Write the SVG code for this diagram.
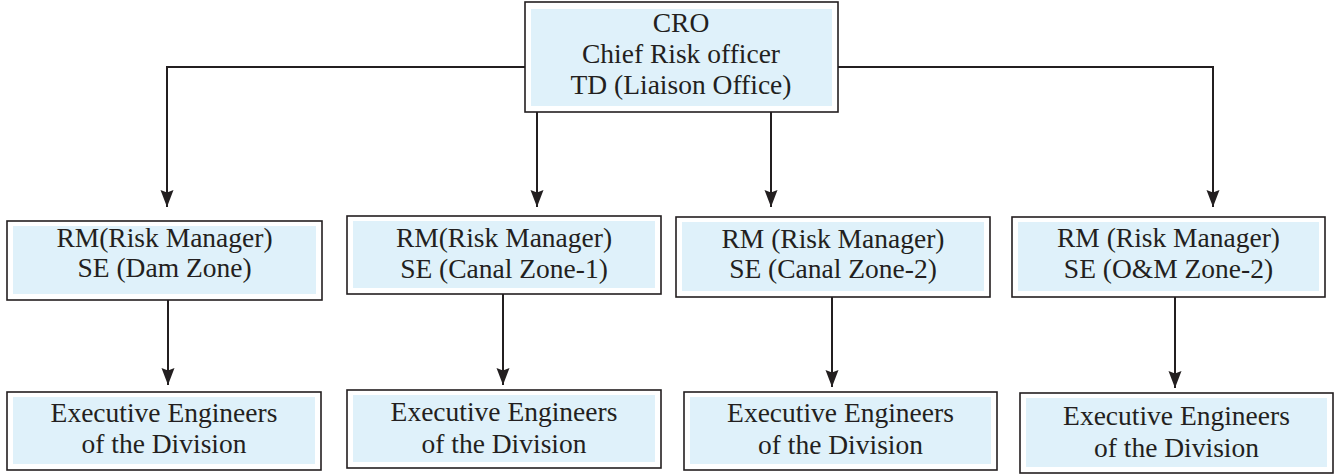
<svg xmlns="http://www.w3.org/2000/svg" width="1338" height="475" viewBox="0 0 1338 475">
<style>
.outer{fill:#ffffff;stroke:#231f20;stroke-width:1.6}
.inner{fill:#dff1fa}
.t{font-family:"Liberation Serif","DejaVu Serif",serif;font-size:27.5px;fill:#231f20;text-anchor:middle}
.c{fill:none;stroke:#231f20;stroke-width:2}
</style>
<defs>
<marker id="ah" markerUnits="userSpaceOnUse" markerWidth="20" markerHeight="16" viewBox="0 -8 18 16" refX="17" refY="0" orient="auto">
<path d="M0,-6.5 L17,0 L0,6.5 L2.5,0 Z" fill="#231f20"/>
</marker>
</defs>
<g id="connectors">
<polyline class="c" points="525,67 167,67 167,207" marker-end="url(#ah)"/>
<polyline class="c" points="838,67 1213,67 1213,207" marker-end="url(#ah)"/>
<line class="c" x1="537" y1="112" x2="537" y2="207" marker-end="url(#ah)"/>
<line class="c" x1="771" y1="112" x2="771" y2="207" marker-end="url(#ah)"/>
<line class="c" x1="168" y1="300" x2="168" y2="385" marker-end="url(#ah)"/>
<line class="c" x1="503" y1="294" x2="503" y2="385" marker-end="url(#ah)"/>
<line class="c" x1="832" y1="297" x2="832" y2="387" marker-end="url(#ah)"/>
<line class="c" x1="1175" y1="297" x2="1175" y2="388" marker-end="url(#ah)"/>
</g>
<g id="cro">
<rect class="outer" x="525" y="2" width="313" height="110"/>
<rect class="inner" x="531" y="9" width="301" height="97"/>
<text class="t" x="681" y="32">CRO</text>
<text class="t" x="681" y="63">Chief Risk officer</text>
<text class="t" x="681" y="94">TD (Liaison Office)</text>
</g>
<g id="rm-dam">
<rect class="outer" x="7" y="221" width="315" height="79"/>
<rect class="inner" x="13" y="226" width="303" height="68"/>
<text class="t" x="164.5" y="247">RM(Risk Manager)</text>
<text class="t" x="164.5" y="277">SE (Dam Zone)</text>
</g>
<g id="rm-canal1">
<rect class="outer" x="347" y="216" width="314" height="78"/>
<rect class="inner" x="353" y="221" width="302" height="67"/>
<text class="t" x="504" y="247">RM(Risk Manager)</text>
<text class="t" x="504" y="278">SE (Canal Zone-1)</text>
</g>
<g id="rm-canal2">
<rect class="outer" x="676" y="217" width="314" height="80"/>
<rect class="inner" x="682" y="222" width="302" height="69"/>
<text class="t" x="833" y="248">RM (Risk Manager)</text>
<text class="t" x="833" y="278">SE (Canal Zone-2)</text>
</g>
<g id="rm-om2">
<rect class="outer" x="1012" y="217" width="313" height="80"/>
<rect class="inner" x="1018" y="222" width="301" height="69"/>
<text class="t" x="1168.5" y="247">RM (Risk Manager)</text>
<text class="t" x="1168.5" y="278">SE (O&amp;M Zone-2)</text>
</g>
<g id="ee-1">
<rect class="outer" x="7" y="392" width="314" height="78"/>
<rect class="inner" x="13" y="397" width="302" height="67"/>
<text class="t" x="164" y="422">Executive Engineers</text>
<text class="t" x="164" y="453">of the Division</text>
</g>
<g id="ee-2">
<rect class="outer" x="347" y="390" width="314" height="78"/>
<rect class="inner" x="353" y="395" width="302" height="67"/>
<text class="t" x="504" y="421">Executive Engineers</text>
<text class="t" x="504" y="453">of the Division</text>
</g>
<g id="ee-3">
<rect class="outer" x="684" y="392" width="313" height="78"/>
<rect class="inner" x="690" y="397" width="301" height="67"/>
<text class="t" x="840.5" y="422">Executive Engineers</text>
<text class="t" x="840.5" y="454">of the Division</text>
</g>
<g id="ee-4">
<rect class="outer" x="1020" y="393" width="313" height="80"/>
<rect class="inner" x="1026" y="398" width="301" height="69"/>
<text class="t" x="1176.5" y="425">Executive Engineers</text>
<text class="t" x="1176.5" y="457">of the Division</text>
</g>
</svg>
